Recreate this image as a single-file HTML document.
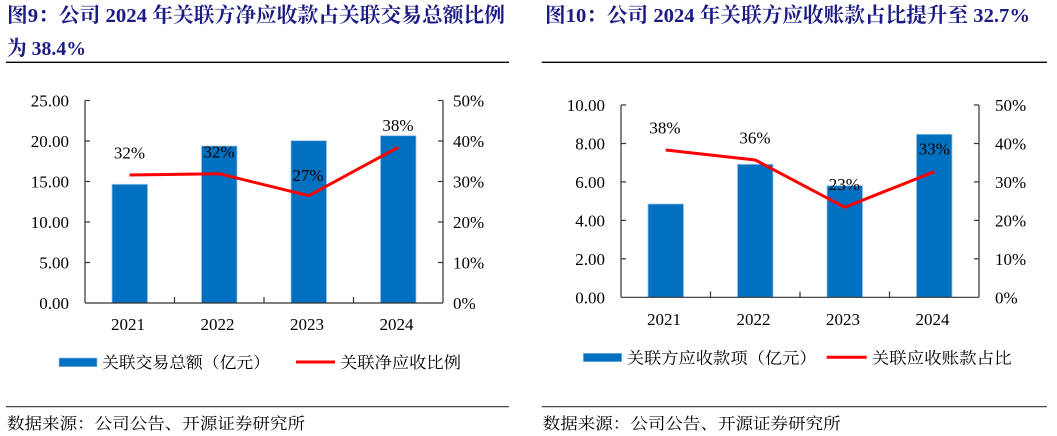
<!DOCTYPE html>
<html><head><meta charset="utf-8"><style>
html,body{margin:0;padding:0;background:#fff;}
svg{display:block;}
.t{font-family:"Liberation Serif","Noto Serif CJK SC",serif;font-weight:bold;fill:#1b1b86;font-size:20.5px;}
.n{font-family:"Liberation Serif","Noto Serif CJK SC",serif;font-size:17px;fill:#000;}
.c{font-family:"Liberation Serif","Noto Serif CJK SC",serif;font-size:16px;fill:#000;}
</style></head><body>
<svg width="1057" height="436" viewBox="0 0 1057 436" xmlns="http://www.w3.org/2000/svg">
<!-- Titles -->
<text class="t" x="7" y="22" textLength="498" lengthAdjust="spacingAndGlyphs">图9：公司 2024 年关联方净应收款占关联交易总额比例</text>
<text class="t" x="7" y="55" textLength="79" lengthAdjust="spacingAndGlyphs">为 38.4%</text>
<text class="t" x="545" y="22" textLength="485" lengthAdjust="spacingAndGlyphs">图10：公司 2024 年关联方应收账款占比提升至 32.7%</text>
<line x1="6" y1="62.3" x2="509" y2="62.3" stroke="#000" stroke-width="1.3"/>
<line x1="541.7" y1="62.3" x2="1047" y2="62.3" stroke="#000" stroke-width="1.3"/>

<!-- Chart 1 -->
<g>
<!-- bars -->
<g fill="#0070C0" stroke="#9dc3e6" stroke-width="0.8">
<rect x="112" y="184.3" width="35.5" height="118.7"/>
<rect x="201.5" y="146" width="35.5" height="157"/>
<rect x="291" y="140.7" width="35.5" height="162.3"/>
<rect x="380.5" y="135.7" width="35.5" height="167.3"/>
</g>
<!-- axes -->
<g stroke="#333" stroke-width="1.2" fill="none">
<line x1="85" y1="100.5" x2="85" y2="303"/>
<line x1="443" y1="100.5" x2="443" y2="303"/>
<line x1="85" y1="303" x2="443" y2="303"/>
<line x1="85" y1="100.5" x2="90" y2="100.5"/>
<line x1="85" y1="141" x2="90" y2="141"/>
<line x1="85" y1="181.5" x2="90" y2="181.5"/>
<line x1="85" y1="222" x2="90" y2="222"/>
<line x1="85" y1="262.5" x2="90" y2="262.5"/>
<line x1="438" y1="100.5" x2="443" y2="100.5"/>
<line x1="438" y1="141" x2="443" y2="141"/>
<line x1="438" y1="181.5" x2="443" y2="181.5"/>
<line x1="438" y1="222" x2="443" y2="222"/>
<line x1="438" y1="262.5" x2="443" y2="262.5"/>
<line x1="174.5" y1="297" x2="174.5" y2="303"/>
<line x1="264" y1="297" x2="264" y2="303"/>
<line x1="353.5" y1="297" x2="353.5" y2="303"/>
</g>
<polyline points="129.5,175 219.25,173.7 308.75,195.7 398.25,147.3" fill="none" stroke="#ff0000" stroke-width="3" stroke-linejoin="round"/>
<g class="n" text-anchor="end">
<text x="69" y="106.5">25.00</text>
<text x="69" y="147">20.00</text>
<text x="69" y="187.5">15.00</text>
<text x="69" y="228">10.00</text>
<text x="69" y="268.5">5.00</text>
<text x="69" y="309">0.00</text>
</g>
<g class="n">
<text x="453" y="106.5">50%</text>
<text x="453" y="147">40%</text>
<text x="453" y="187.5">30%</text>
<text x="453" y="228">20%</text>
<text x="453" y="268.5">10%</text>
<text x="453" y="309">0%</text>
</g>
<g class="n" text-anchor="middle">
<text x="129.5" y="158.5">32%</text>
<text x="219" y="157.7">32%</text>
<text x="308" y="181">27%</text>
<text x="398" y="131">38%</text>
<text x="128" y="330">2021</text>
<text x="217.5" y="330">2022</text>
<text x="307" y="330">2023</text>
<text x="396.5" y="330">2024</text>
</g>
<!-- legend -->
<rect x="59" y="358" width="38" height="8.7" fill="#0070C0" stroke="#9dc3e6" stroke-width="0.6"/>
<text class="c" x="102" y="368" textLength="168" lengthAdjust="spacingAndGlyphs">关联交易总额（亿元）</text>
<line x1="296" y1="362" x2="335" y2="362" stroke="#ff0000" stroke-width="3"/>
<text class="c" x="340" y="368" textLength="121" lengthAdjust="spacingAndGlyphs">关联净应收比例</text>
<line x1="6" y1="406.7" x2="509" y2="406.7" stroke="#333" stroke-width="1.2"/>
<text class="c" x="7" y="429" textLength="298" lengthAdjust="spacingAndGlyphs">数据来源：公司公告、开源证券研究所</text>
</g>

<!-- Chart 2 -->
<g>
<g fill="#0070C0" stroke="#9dc3e6" stroke-width="0.8">
<rect x="648" y="204" width="35.5" height="93.3"/>
<rect x="737.5" y="164.3" width="35.5" height="133"/>
<rect x="827" y="185.7" width="35.5" height="111.6"/>
<rect x="916.5" y="134.3" width="35.5" height="163"/>
</g>
<g stroke="#333" stroke-width="1.2" fill="none">
<line x1="621" y1="105" x2="621" y2="297.3"/>
<line x1="979" y1="105" x2="979" y2="297.3"/>
<line x1="621" y1="297.3" x2="979" y2="297.3"/>
<line x1="621" y1="105" x2="626" y2="105"/>
<line x1="621" y1="143.5" x2="626" y2="143.5"/>
<line x1="621" y1="181.9" x2="626" y2="181.9"/>
<line x1="621" y1="220.4" x2="626" y2="220.4"/>
<line x1="621" y1="258.8" x2="626" y2="258.8"/>
<line x1="974" y1="105" x2="979" y2="105"/>
<line x1="974" y1="143.5" x2="979" y2="143.5"/>
<line x1="974" y1="181.9" x2="979" y2="181.9"/>
<line x1="974" y1="220.4" x2="979" y2="220.4"/>
<line x1="974" y1="258.8" x2="979" y2="258.8"/>
<line x1="710.5" y1="291.5" x2="710.5" y2="297.3"/>
<line x1="800" y1="291.5" x2="800" y2="297.3"/>
<line x1="889.5" y1="291.5" x2="889.5" y2="297.3"/>
</g>
<polyline points="665.75,150 755.25,160 844.75,207.3 934.25,171.7" fill="none" stroke="#ff0000" stroke-width="3" stroke-linejoin="round"/>
<g class="n" text-anchor="end">
<text x="605" y="111">10.00</text>
<text x="605" y="149.5">8.00</text>
<text x="605" y="188">6.00</text>
<text x="605" y="226.4">4.00</text>
<text x="605" y="264.8">2.00</text>
<text x="605" y="303.3">0.00</text>
</g>
<g class="n">
<text x="995" y="111">50%</text>
<text x="995" y="149.5">40%</text>
<text x="995" y="188">30%</text>
<text x="995" y="226.4">20%</text>
<text x="995" y="264.8">10%</text>
<text x="995" y="303.3">0%</text>
</g>
<g class="n" text-anchor="middle">
<text x="665" y="133.3">38%</text>
<text x="755" y="143.3">36%</text>
<text x="844.3" y="190">23%</text>
<text x="934.3" y="154.3">33%</text>
<text x="664" y="325">2021</text>
<text x="753.5" y="325">2022</text>
<text x="843" y="325">2023</text>
<text x="932.5" y="325">2024</text>
</g>
<rect x="583.3" y="353.3" width="38.4" height="8.4" fill="#0070C0" stroke="#9dc3e6" stroke-width="0.6"/>
<text class="c" x="626.7" y="363.5" textLength="190" lengthAdjust="spacingAndGlyphs">关联方应收款项（亿元）</text>
<line x1="826.7" y1="357.3" x2="866.7" y2="357.3" stroke="#ff0000" stroke-width="3"/>
<text class="c" x="871.7" y="363.5" textLength="140" lengthAdjust="spacingAndGlyphs">关联应收账款占比</text>
<line x1="541.7" y1="406.7" x2="1047" y2="406.7" stroke="#333" stroke-width="1.2"/>
<text class="c" x="542.7" y="429" textLength="298" lengthAdjust="spacingAndGlyphs">数据来源：公司公告、开源证券研究所</text>
</g>
</svg>
</body></html>
